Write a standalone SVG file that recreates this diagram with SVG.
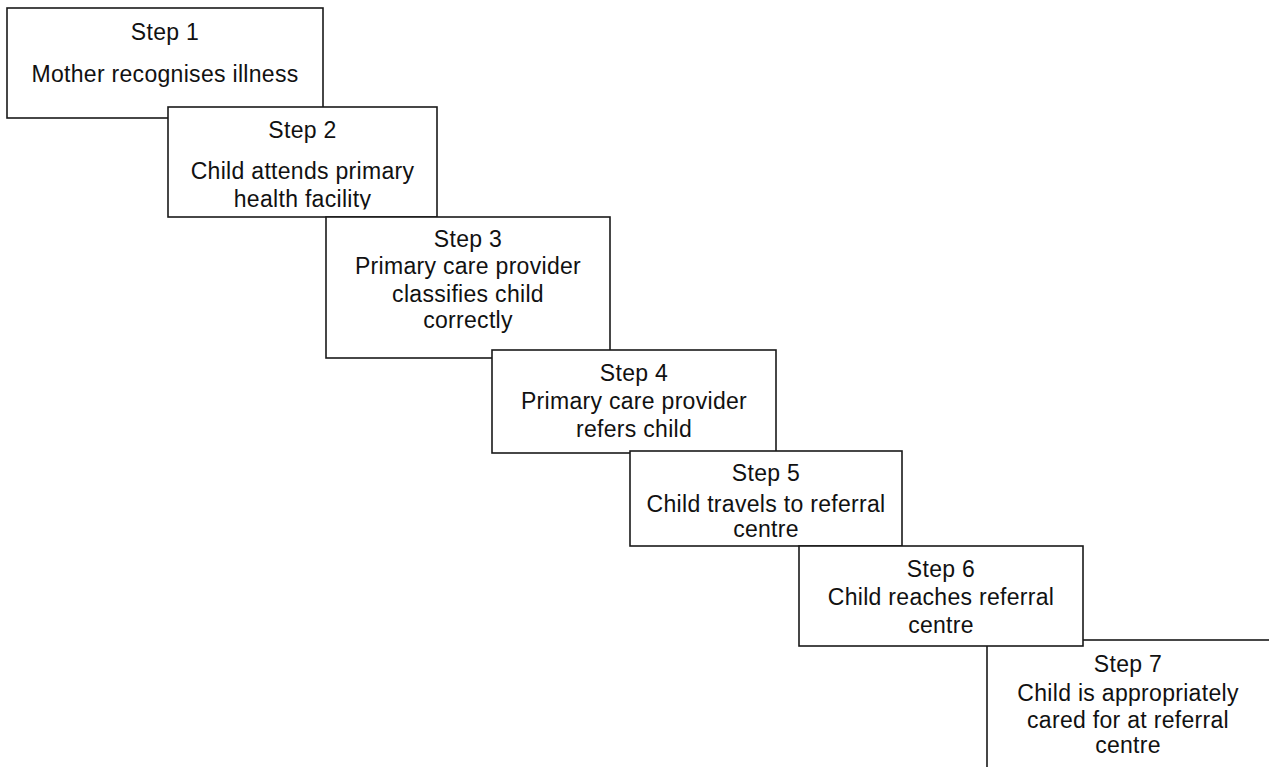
<svg xmlns="http://www.w3.org/2000/svg" width="1269" height="767" viewBox="0 0 1269 767">
<style>
.box{fill:#fff;stroke:#1a1a1a;stroke-width:1.6}
.t{font-family:"Liberation Sans",Arial,Helvetica,sans-serif;font-size:23px;letter-spacing:0.3px;fill:#111;text-anchor:middle}
</style>
<defs>
<clipPath id="clip2"><rect x="168" y="107" width="269" height="102.5"/></clipPath>
</defs>
<rect width="1269" height="767" fill="#fff"/>
<g id="connectors"/>
<g id="step1">
<rect class="box" x="7" y="8" width="316" height="110"/>
<text class="t" x="165" y="40">Step 1</text>
<text class="t" x="165" y="82">Mother recognises illness</text>
</g>
<g id="step2">
<rect class="box" x="168" y="107" width="269" height="110"/>
<g clip-path="url(#clip2)">
<text class="t" x="302.5" y="138">Step 2</text>
<text class="t" x="302.5" y="179">Child attends primary</text>
<text class="t" x="302.5" y="207">health facility</text>
</g>
</g>
<g id="step3">
<rect class="box" x="326" y="217" width="284" height="141"/>
<text class="t" x="468" y="247">Step 3</text>
<text class="t" x="468" y="274">Primary care provider</text>
<text class="t" x="468" y="302">classifies child</text>
<text class="t" x="468" y="328">correctly</text>
</g>
<g id="step4">
<rect class="box" x="492" y="350" width="284" height="103"/>
<text class="t" x="634" y="381">Step 4</text>
<text class="t" x="634" y="409">Primary care provider</text>
<text class="t" x="634" y="437">refers child</text>
</g>
<g id="step5">
<rect class="box" x="630" y="451" width="272" height="95"/>
<text class="t" x="766" y="481">Step 5</text>
<text class="t" x="766" y="512">Child travels to referral</text>
<text class="t" x="766" y="537">centre</text>
</g>
<g id="step7">
<rect class="box" x="987" y="640" width="320" height="200"/>
<text class="t" x="1128" y="672">Step 7</text>
<text class="t" x="1128" y="701">Child is appropriately</text>
<text class="t" x="1128" y="728">cared for at referral</text>
<text class="t" x="1128" y="753">centre</text>
</g>
<g id="step6">
<rect class="box" x="799" y="546" width="284" height="100"/>
<text class="t" x="941" y="577">Step 6</text>
<text class="t" x="941" y="605">Child reaches referral</text>
<text class="t" x="941" y="633">centre</text>
</g>
</svg>
